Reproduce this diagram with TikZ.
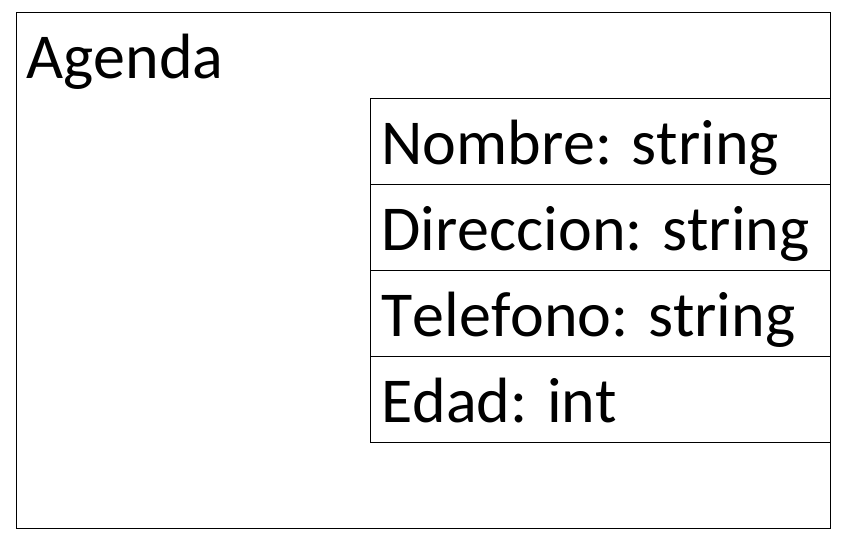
\documentclass[tikz,border=0pt]{standalone}
\usepackage{fontspec}
\setmainfont[Kerning=Off]{Carlito}

\begin{document}
\begin{tikzpicture}[x=1pt, y=-1pt, line width=1pt,
		every node/.style={font=\fontsize{64}{77}\selectfont, inner sep=0pt}]

	\useasboundingbox (0,0) rectangle (842,547);

	% outer class box
	\def \boxLeft {16};
	\def \boxTop {12};
	\draw (\boxLeft,\boxTop) rectangle (830,528);
	\node [anchor=base west] (agendaLabel) at (26,78) {Agenda};

	% attribute rows, stacked below each other
	\def \rowLeft {370};
	\def \rowTop {98};
	\def \rowHeight {86};
	\foreach \name/\label [count=\i from 0] in {nombre/Nombre: string, direccion/Direccion: string, telefono/Telefono: string, edad/Edad: int}
	{
		\draw (\rowLeft, {\rowTop + \i*\rowHeight}) rectangle ++(460, \rowHeight);
		\node [anchor=base west] (\name) at ({\rowLeft + 11}, {\rowTop + \i*\rowHeight + 66}) {\label};
	}

\end{tikzpicture}
\end{document}
